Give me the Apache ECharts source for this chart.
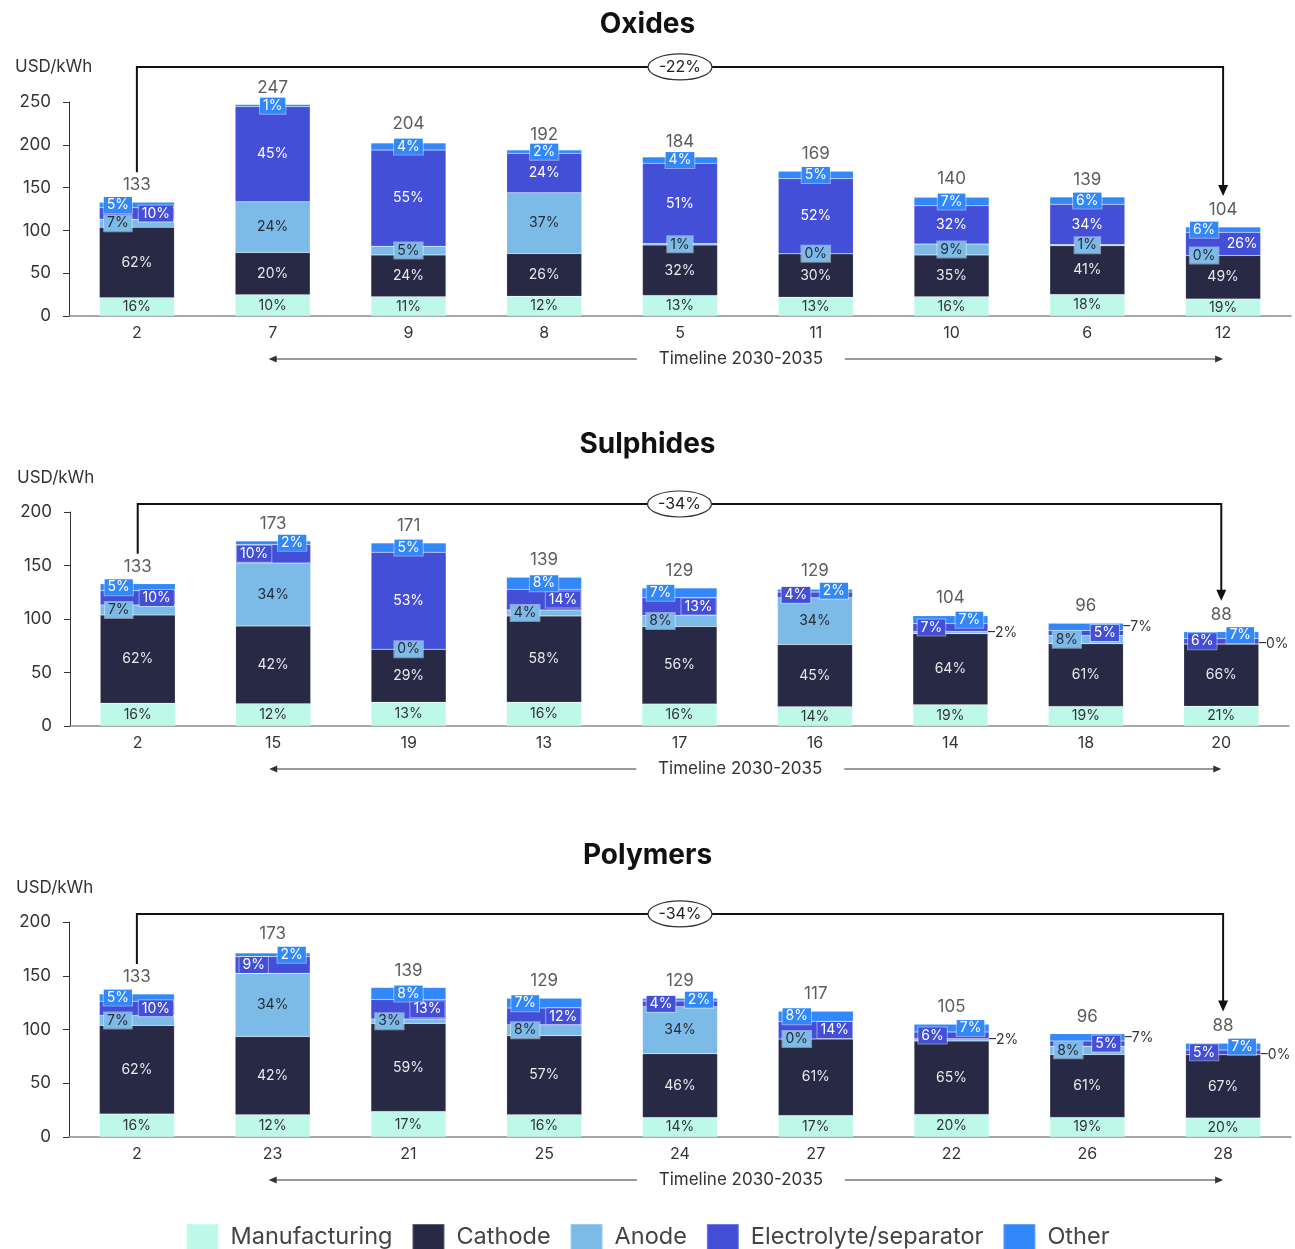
<!DOCTYPE html>
<html>
<head>
<meta charset="utf-8">
<script src="https://cdn.jsdelivr.net/npm/echarts@6/dist/echarts.min.js"></script>
<style>
  html, body { margin: 0; padding: 0; background: #fff; }
  #chart { width: 1295px; height: 1249px; }
</style>
</head>
<body>
<div id="chart"></div>
<script>
// ---- data -------------------------------------------------------------
const componentNames = ['Manufacturing', 'Cathode', 'Anode', 'Electrolyte/separator', 'Other'];

const oxidesCategories = ['2', '7', '9', '8', '5', '11', '10', '6', '12'];
const oxidesTotals = [133, 247, 204, 192, 184, 169, 140, 139, 104];
const oxidesManufacturing = [16, 10, 11, 12, 13, 13, 16, 18, 19];
const oxidesCathode = [62, 20, 24, 26, 32, 30, 35, 41, 49];
const oxidesAnode = [7, 24, 5, 37, 1, 0, 9, 1, 0];
const oxidesElectrolyte = [10, 45, 55, 24, 51, 52, 32, 34, 26];
const oxidesOther = [5, 1, 4, 2, 4, 5, 7, 6, 6];

const sulphidesCategories = ['2', '15', '19', '13', '17', '16', '14', '18', '20'];
const sulphidesTotals = [133, 173, 171, 139, 129, 129, 104, 96, 88];
const sulphidesManufacturing = [16, 12, 13, 16, 16, 14, 19, 19, 21];
const sulphidesCathode = [62, 42, 29, 58, 56, 45, 64, 61, 66];
const sulphidesAnode = [7, 34, 0, 4, 8, 34, 2, 8, 0];
const sulphidesElectrolyte = [10, 10, 53, 14, 13, 4, 7, 5, 6];
const sulphidesOther = [5, 2, 5, 8, 7, 2, 7, 7, 7];

const polymersCategories = ['2', '23', '21', '25', '24', '27', '22', '26', '28'];
const polymersTotals = [133, 173, 139, 129, 129, 117, 105, 96, 88];
const polymersManufacturing = [16, 12, 17, 16, 14, 17, 20, 19, 20];
const polymersCathode = [62, 42, 59, 57, 46, 61, 65, 61, 67];
const polymersAnode = [7, 34, 3, 8, 34, 0, 2, 8, 0];
const polymersElectrolyte = [10, 9, 13, 12, 4, 14, 6, 5, 5];
const polymersOther = [5, 2, 8, 7, 2, 8, 7, 7, 7];

const panelTitles = ['Oxides', 'Sulphides', 'Polymers'];
const changeLabels = ['-22%', '-34%', '-34%'];
const yMax = [250, 200, 200];

// label placement per bar: Manufacturing, Cathode, Anode, Electrolyte, Other
// c = centred, cb = centred in a box, lb / rb = boxed left / right, r = right, out = outside right
const oxidesPlacement = [
  ['c', 'c', 'lb', 'rb', 'lb'], ['c', 'c', 'c', 'c', 'cb'], ['c', 'c', 'cb', 'c', 'cb'],
  ['c', 'c', 'c', 'c', 'cb'], ['c', 'c', 'cb', 'c', 'cb'], ['c', 'c', 'cb', 'c', 'cb'],
  ['c', 'c', 'cb', 'c', 'cb'], ['c', 'c', 'cb', 'c', 'cb'], ['c', 'c', 'lb', 'r', 'lb']
];
const sulphidesPlacement = [
  ['c', 'c', 'lb', 'rb', 'lb'], ['c', 'c', 'c', 'lb', 'rb'], ['c', 'c', 'cb', 'c', 'cb'],
  ['c', 'c', 'lb', 'rb', 'cb'], ['c', 'c', 'lb', 'rb', 'lb'], ['c', 'c', 'c', 'lb', 'rb'],
  ['c', 'c', 'out', 'lb', 'rb'], ['c', 'c', 'lb', 'rb', 'out'], ['c', 'c', 'out', 'lb', 'rb']
];
const polymersPlacement = [
  ['c', 'c', 'lb', 'rb', 'lb'], ['c', 'c', 'c', 'lb', 'rb'], ['c', 'c', 'lb', 'rb', 'cb'],
  ['c', 'c', 'lb', 'rb', 'lb'], ['c', 'c', 'c', 'lb', 'rb'], ['c', 'c', 'lb', 'rb', 'lb'],
  ['c', 'c', 'out', 'lb', 'rb'], ['c', 'c', 'lb', 'rb', 'out'], ['c', 'c', 'out', 'lb', 'rb']
];

const panels = [
  { cats: oxidesCategories, totals: oxidesTotals,
    parts: [oxidesManufacturing, oxidesCathode, oxidesAnode, oxidesElectrolyte, oxidesOther],
    placement: oxidesPlacement },
  { cats: sulphidesCategories, totals: sulphidesTotals,
    parts: [sulphidesManufacturing, sulphidesCathode, sulphidesAnode, sulphidesElectrolyte, sulphidesOther],
    placement: sulphidesPlacement },
  { cats: polymersCategories, totals: polymersTotals,
    parts: [polymersManufacturing, polymersCathode, polymersAnode, polymersElectrolyte, polymersOther],
    placement: polymersPlacement }
];

// ---- styling ----------------------------------------------------------
const FONT = 'Inter, "Noto Sans", sans-serif';
const colors = ['#BDF8E9', '#282A45', '#7CBBE8', '#444FD8', '#3288F8'];
const labelColors = ['#333333', '#E8E8EE', '#2A2A35', '#FFFFFF', '#FFFFFF'];
const gridLayout = [
  { top: 102, height: 214, left: 69, right: 4 },
  { top: 512, height: 214, left: 70, right: 6 },
  { top: 922, height: 215, left: 69, right: 4 }
];
const bracketLevel = [291, 207.5, 207.5];

function labelFor(code, s) {
  const box = { backgroundColor: colors[s], padding: [1, 3], borderColor: 'rgba(255,255,255,0.45)', borderWidth: 1 };
  switch (code) {
    case 'cb': return Object.assign({ position: 'inside' }, box);
    case 'lb': return Object.assign({ position: 'inside', offset: [-19, 0] }, box);
    case 'rb': return Object.assign({ position: 'inside', offset: [19, 0] }, box);
    case 'r':  return { position: 'inside', offset: [19, 0] };
    case 'out': return { position: 'right', distance: 0, color: '#333333' };
    default: return { position: 'inside' };
  }
}

const grids = [], xAxes = [], yAxes = [], series = [], titles = [];

panels.forEach((p, i) => {
  const g = gridLayout[i];
  grids.push({ left: g.left, right: g.right, top: g.top, height: g.height, containLabel: false });
  xAxes.push({
    type: 'category', gridIndex: i, data: p.cats,
    axisTick: { show: false },
    axisLine: { lineStyle: { color: '#8A8A8A', width: 1.5 } },
    axisLabel: { fontSize: 16, color: '#333', margin: 9, fontFamily: FONT }
  });
  yAxes.push({
    type: 'value', gridIndex: i, min: 0, max: yMax[i], interval: 50,
    splitLine: { show: false },
    axisLine: { show: true, lineStyle: { color: '#333', width: 1 } },
    axisTick: { show: true, length: 6, lineStyle: { color: '#333' } },
    axisLabel: { fontSize: 17, color: '#333', margin: 18, fontFamily: FONT }
  });
  titles.push({
    text: panelTitles[i], left: 'center', top: [6, 426, 837][i],
    textStyle: { fontSize: 28, fontWeight: 'bold', color: '#111', fontFamily: FONT }
  });
  titles.push({
    text: 'USD/kWh', left: [10, 12, 11][i], top: [53, 464, 874][i],
    textStyle: { fontSize: 17, fontWeight: 'normal', color: '#333', fontFamily: FONT }
  });

  p.parts.forEach((arr, s) => {
    series.push({
      type: 'bar', name: componentNames[s], stack: 'panel' + i,
      xAxisIndex: i, yAxisIndex: i, barWidth: 75,
      itemStyle: { color: colors[s], borderColor: 'rgba(255,255,255,0.25)', borderWidth: 0.5 },
      label: {
        show: true, fontSize: 14, color: labelColors[s], fontFamily: FONT,
        formatter: prm => (prm.data.out ? '\u2013' : '') + prm.data.pct + '%'
      },
      emphasis: { disabled: true },
      data: arr.map((pct, k) => {
        const code = p.placement[k][s];
        return {
          value: p.totals[k] * pct / 100,
          pct: pct,
          out: code === 'out',
          label: labelFor(code, s)
        };
      })
    });
  });

  // totals above each stack
  series.push({
    type: 'scatter', name: 'total' + i, xAxisIndex: i, yAxisIndex: i,
    symbol: 'circle', symbolSize: 1, itemStyle: { color: 'rgba(0,0,0,0)' },
    label: { show: true, position: 'top', distance: 8, fontSize: 17, color: '#333', fontFamily: FONT, formatter: '{c}' },
    emphasis: { disabled: true },
    data: p.totals
  });
});

const chart = echarts.init(document.getElementById('chart'), null, { renderer: 'canvas' });
chart.setOption({
  animation: false,
  backgroundColor: '#fff',
  title: titles,
  grid: grids,
  xAxis: xAxes,
  yAxis: yAxes,
  legend: {
    data: componentNames, left: 'center', top: 1218, icon: 'rect',
    itemWidth: 32, itemHeight: 26, itemGap: 19,
    textStyle: { fontSize: 23.5, color: '#444', fontFamily: FONT, padding: [0, 0, 0, 7] }
  },
  series: series
});

// ---- change brackets and timeline arrows ------------------------------
const graphics = [];
panels.forEach((p, i) => {
  const toPx = (x, y) => chart.convertToPixel({ gridIndex: i }, [x, y]);
  const n = p.cats.length - 1;
  const first = toPx(0, p.totals[0]);
  const last = toPx(n, p.totals[n]);
  const level = toPx(0, bracketLevel[i])[1];
  const tipY = last[1] - 31;

  graphics.push({
    type: 'polyline', z: 50,
    shape: { points: [[first[0], first[1] - 30], [first[0], level], [last[0], level], [last[0], tipY - 10]] },
    style: { stroke: '#111', lineWidth: 2, fill: null }
  });
  graphics.push({
    type: 'polygon', z: 50,
    shape: { points: [[last[0] - 5, tipY - 11], [last[0] + 5, tipY - 11], [last[0], tipY]] },
    style: { fill: '#111' }
  });
  const midX = (first[0] + last[0]) / 2;
  graphics.push({
    type: 'ellipse', z: 51,
    shape: { cx: midX, cy: level, rx: 32, ry: 13 },
    style: { fill: '#fff', stroke: '#333', lineWidth: 1.2 }
  });
  graphics.push({
    type: 'text', z: 52, x: midX, y: level,
    style: { text: changeLabels[i], fontSize: 16, fill: '#222', align: 'center', verticalAlign: 'middle', fontFamily: FONT }
  });

  // timeline arrow under the axis
  const base = toPx(0, 0)[1] + 43;
  const x1 = toPx(1, 0)[0] - 4;
  const x2 = toPx(n, 0)[0];
  const tx = (x1 + x2) / 2 - 5;
  const gap = 104;
  graphics.push({ type: 'line', shape: { x1: x1 + 6, y1: base, x2: tx - gap, y2: base }, style: { stroke: '#333', lineWidth: 1 } });
  graphics.push({ type: 'line', shape: { x1: tx + gap, y1: base, x2: x2 - 6, y2: base }, style: { stroke: '#333', lineWidth: 1 } });
  graphics.push({ type: 'polygon', shape: { points: [[x1, base], [x1 + 8, base - 3.5], [x1 + 8, base + 3.5]] }, style: { fill: '#333' } });
  graphics.push({ type: 'polygon', shape: { points: [[x2, base], [x2 - 8, base - 3.5], [x2 - 8, base + 3.5]] }, style: { fill: '#333' } });
  graphics.push({
    type: 'text', x: tx, y: base,
    style: { text: 'Timeline 2030-2035', fontSize: 17, fill: '#333', align: 'center', verticalAlign: 'middle', fontFamily: FONT }
  });
});
chart.setOption({ graphic: graphics });
</script>
</body>
</html>
